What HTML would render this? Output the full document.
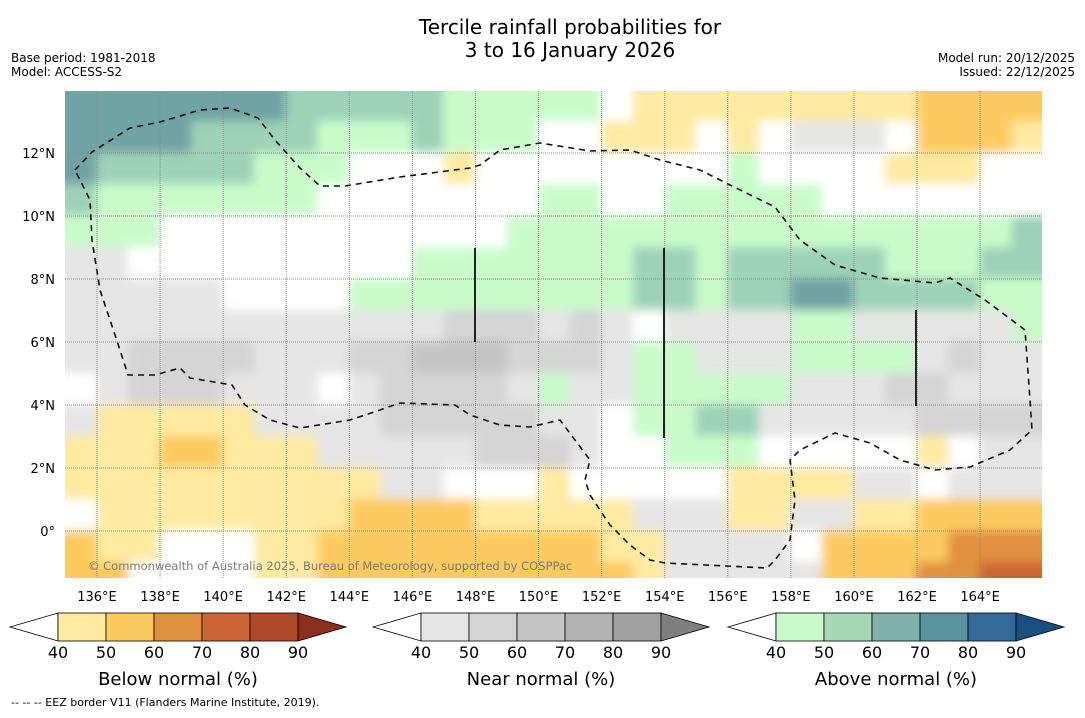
<!DOCTYPE html>
<html><head><meta charset="utf-8">
<style>
body{margin:0;background:#fff;width:1085px;height:713px;overflow:hidden;font-family:"Liberation Sans","DejaVu Sans",sans-serif}
svg text{font-family:"DejaVu Sans","Liberation Sans",sans-serif}
</style></head>
<body>
<svg id="chart" width="1085" height="713" xmlns="http://www.w3.org/2000/svg">
<defs>
<clipPath id="mapclip"><rect x="65" y="91" width="977" height="487"/></clipPath>
<filter id="soft" filterUnits="userSpaceOnUse" x="40" y="60" width="1030" height="550"><feGaussianBlur stdDeviation="5"/></filter>
</defs>
<text x="570" y="34" font-size="20" text-anchor="middle">Tercile rainfall probabilities for</text>
<text x="570" y="57" font-size="20" text-anchor="middle">3 to 16 January 2026</text>
<text x="11" y="62" font-size="12">Base period: 1981-2018</text>
<text x="11" y="76" font-size="12">Model: ACCESS-S2</text>
<text x="1075" y="62" font-size="12" text-anchor="end">Model run: 20/12/2025</text>
<text x="1075" y="76" font-size="12" text-anchor="end">Issued: 22/12/2025</text>
<g id="map" clip-path="url(#mapclip)">
<rect x="65" y="91" width="977" height="487" fill="#fff"/>
<g id="cells" filter="url(#soft)"></g>
<g id="grid"></g>
<g id="overlay"></g>
</g>
<g id="axes"></g>
<g id="colorbars"></g>
<text x="11" y="706" font-size="11">--  --  -- EEZ border V11 (Flanders Marine Institute, 2019).</text>
</svg>
<script>
// Grid data: 1-degree cells, columns lon 135..165 (west edge), rows lat 14..-1 (north edge)
const lonStart = 135;
const latTop = 14;
const categoryRows = [
"iiiiiiihhhhhgggggWaaaaaaaaabbbb",
"iiiihhhhggghgggWWaaaWaWnnnWbbba",
"ihhhhhgggWWWaWWWWWWWWgWWWWaaaWW",
"hgggggggWWWWWWWggWWgggggWWWWWWW",
"gggWWWWWWWWWWWggggggggggggggggh",
"nnWWWWWWWWWggggggghhghhhhhggghh",
"nnnnnWWWWggggggggghhghhiihhhhgg",
"nnnnnnnnnnnnmmmnmnWnnnnggnnnnng",
"nnmmmmnnnmmooommmnggnnnggggnmnn",
"WnmmmnnnWnmmmmngnngggggnnnmmnnn",
"naaaaannnnmmmmmnnWgghhnnnnnmmmm",
"aaabbaaannnnnmmmnWWgggWWWWWaWnn",
"aaaaaaaaaannWWWaWWWWWaaaannWnnn",
"Waaaaaaaabbbbaaaaannnaannaabbbb",
"baaWWWaabbbbbbbbbaannnnWbbbbccc",
"bbWWWWaabbbbbbbbbbannnnnbbbccdd"
];
const categoryCodes = ["W","a","b","c","d","n","m","o","g","h","i","j"];
const categoryNames = ["no-signal","below-40-50","below-50-60","below-60-70","below-70-80","near-40-50","near-50-60","near-60-70","above-40-50","above-50-60","above-60-70","above-70-80"];
const lonTicks = [136,138,140,142,144,146,148,150,152,154,156,158,160,162,164];
const latTicks = [12,10,8,6,4,2,0];
const cbTickLabels = ["40","50","60","70","80","90"];

const palette = {W:"#ffffff",a:"#feeaa0",b:"#fdca60",c:"#e0913f",d:"#cc6533",n:"#e5e5e5",m:"#d4d4d4",o:"#c4c4c4",g:"#c9fbca",h:"#9dd2b8",i:"#6fa3a3",j:"#55889e"};
const NS="http://www.w3.org/2000/svg";
function xOf(lon){return 97+(lon-136)*31.54;}
function yOf(lat){return 153+(12-lat)*31.5;}
function mk(tag,attrs,parent){const e=document.createElementNS(NS,tag);for(const k in attrs)e.setAttribute(k,attrs[k]);parent.appendChild(e);return e;}

const cells=document.getElementById('cells');
categoryRows.forEach((row,r)=>{
  for(let c=0;c<row.length;c++){
    const code=row[c];
    const lon=lonStart+c, lat=latTop-r;
    let x0=xOf(lon), x1=xOf(lon+1), y0=yOf(lat), y1=yOf(lat-1);
    if(c===0) x0-=30;
    if(c===row.length-1) x1+=30;
    if(r===0) y0-=30;
    if(r===categoryRows.length-1) y1+=30;
    const rc=mk('rect',{x:x0-0.5,y:y0-0.5,width:x1-x0+1,height:y1-y0+1,fill:palette[code]},cells);
    
    
  }
});

// gridlines
const grid=document.getElementById('grid');
lonTicks.forEach(l=>{
  const ln=mk('line',{x1:xOf(l),x2:xOf(l),y1:91,y2:578,stroke:"#8a8a8a","stroke-width":1,"stroke-dasharray":"1,1"},grid);
  
  
});
latTicks.forEach(l=>{
  const ln=mk('line',{x1:65,x2:1042,y1:yOf(l),y2:yOf(l),stroke:"#8a8a8a","stroke-width":1,"stroke-dasharray":"1,1"},grid);
  
  
});

// overlay: EEZ border + vertical lines + copyright
const ov=document.getElementById('overlay');
const eez=[[75,170],[92,152],[130,128],[160,122],[200,110],[230,108],[258,118],[275,140],[300,168],[320,186],[345,186],[400,177],[470,168],[480,165],[500,150],[540,143],[565,147],[590,151],[630,150],[660,160],[700,170],[730,185],[775,207],[800,240],[835,265],[880,278],[935,283],[950,278],[985,300],[1025,330],[1030,400],[1032,430],[1010,450],[970,467],[935,470],[900,460],[870,443],[835,433],[800,450],[790,460],[795,500],[790,540],[775,560],[767,568],[665,563],[650,560],[630,545],[610,525],[590,495],[585,480],[590,460],[575,440],[560,420],[530,427],[500,425],[470,415],[455,405],[400,403],[380,410],[350,420],[300,428],[270,420],[245,405],[232,385],[190,378],[180,368],[155,375],[128,375],[120,350],[100,290],[92,240],[90,200],[75,170]];
const pl=mk('polyline',{points:eez.map(p=>p.join(',')).join(' '),fill:"none",stroke:"#111","stroke-width":1.6,"stroke-dasharray":"6,5"},ov);


[[475,248,342],[664,248,438],[916,310,406]].forEach((v,i)=>{
  const l=mk('line',{x1:v[0],x2:v[0],y1:v[1],y2:v[2],stroke:"#222","stroke-width":2},ov);
  
  
});
const cp=mk('text',{x:88,y:570,"font-size":11.5,fill:"#7a7a7a"},ov);
cp.textContent="© Commonwealth of Australia 2025, Bureau of Meteorology, supported by COSPPac";



// axes labels
const ax=document.getElementById('axes');
lonTicks.forEach(l=>{
  const t=mk('text',{x:xOf(l),y:601,"font-size":13,"text-anchor":"middle"},ax);
  t.textContent=l+"°E";
  
  
});
latTicks.forEach(l=>{
  const t=mk('text',{x:55,y:yOf(l)+5,"font-size":13,"text-anchor":"end"},ax);
  t.textContent=l===0?"0°":l+"°N";
  
  
});

// colorbars
const cbs=document.getElementById('colorbars');
const bars=[
 {name:"below",x:10,title:"Below normal (%)",cols:["#feeaa0","#fdca60","#e0913f","#cc6533","#b04a28"],end:"#8b2f1c"},
 {name:"near",x:373,title:"Near normal (%)",cols:["#e5e5e5","#d4d4d4","#c4c4c4","#b2b2b2","#a0a0a0"],end:"#7f7f7f"},
 {name:"above",x:728,title:"Above normal (%)",cols:["#c9fbca","#a6d8b8","#7fb2aa","#5a92a0","#336a9a"],end:"#1a4f80"}
];
bars.forEach(b=>{
  const g=mk('g',{},cbs);
  
  
  const x0=b.x, y0=613, y1=641, ym=627, w=48;
  mk('polygon',{points:`${x0},${ym} ${x0+w},${y0} ${x0+w},${y1}`,fill:"#fff",stroke:"#000","stroke-width":0.8},g);
  b.cols.forEach((c,i)=>{mk('rect',{x:x0+w+i*w,y:y0,width:w,height:y1-y0,fill:c,stroke:"#000","stroke-width":0.8},g);});
  const xe=x0+w*6;
  mk('polygon',{points:`${xe},${y0} ${xe+w},${ym} ${xe},${y1}`,fill:b.end,stroke:"#000","stroke-width":0.8},g);
  cbTickLabels.forEach((lab,i)=>{
    const t=mk('text',{x:x0+w+i*w,y:658,"font-size":16,"text-anchor":"middle"},g);
    t.textContent=lab;
  });
  const tt=mk('text',{x:x0+w*3.5,y:685,"font-size":18,"text-anchor":"middle"},g);
  tt.textContent=b.title;
  
  
});
</script>
</body></html>
